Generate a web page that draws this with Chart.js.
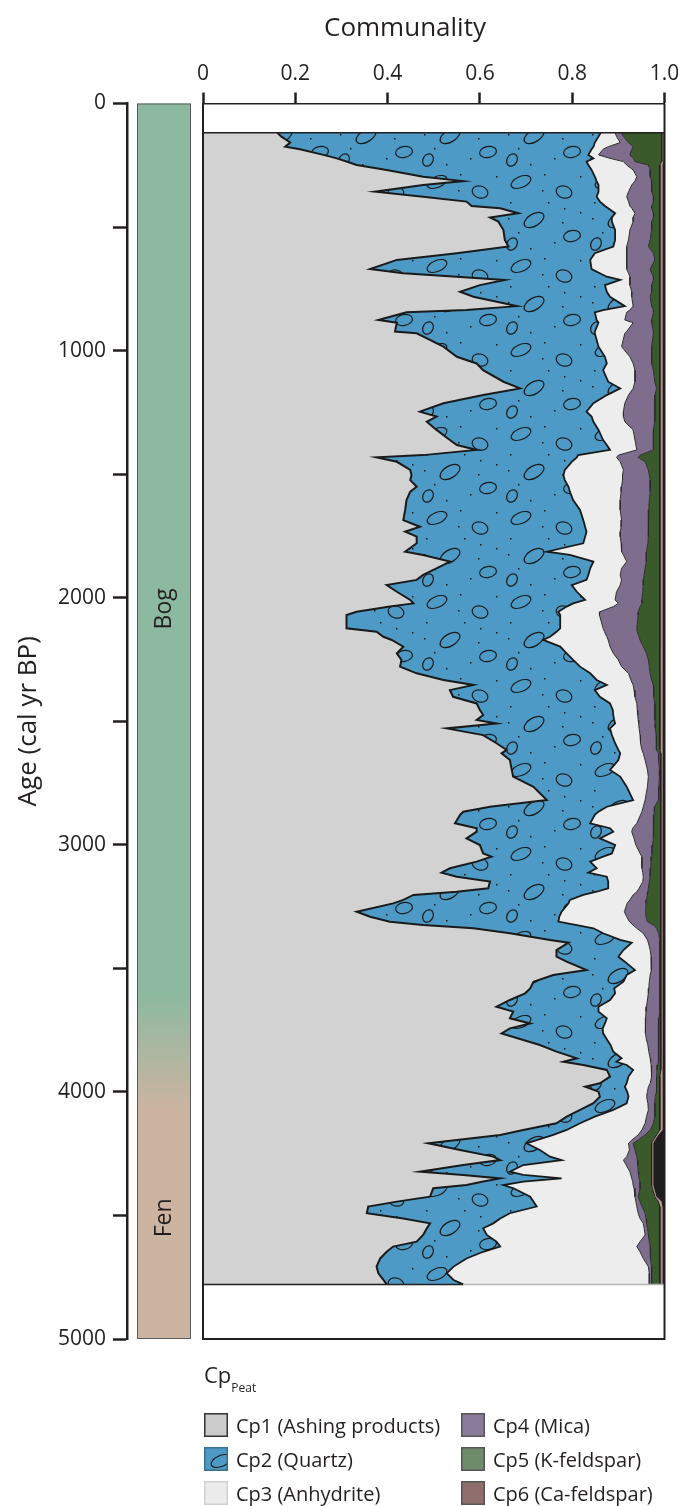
<!DOCTYPE html>
<html>
<head>
<meta charset="utf-8">
<title>Communality of peat components</title>
<script src="https://cdn.jsdelivr.net/npm/chart.js@4.4.1/dist/chart.umd.min.js"></script>
<style>
  body { margin: 0; background: #fff; }
  #wrap { position: relative; width: 678px; height: 1506px; font-family: 'Open Sans', sans-serif; color: #231f20; overflow: hidden; }
  #chart { position: absolute; left: 0; top: 0; }
  #xtitle { position: absolute; left: 305px; top: 13px; width: 200px; text-align: center; font-size: 26px; line-height: 26px; }
  #cpLabel { position: absolute; left: 204px; top: 1363px; font-size: 22px; line-height: 22px; }
  #cpLabel sub { font-size: 12px; vertical-align: -9px; }
  #legend { position: absolute; left: 204px; top: 1408px; display: grid; grid-template-columns: 257px auto; grid-template-rows: repeat(3, 34px); grid-auto-flow: column; font-size: 20px; }
  .item { display: flex; align-items: center; white-space: nowrap; }
  .item canvas { margin-right: 8px; }
</style>
</head>
<body>
<div id="wrap">
  <canvas id="chart" width="678" height="1506"></canvas>
  <div id="xtitle">Communality</div>
  <div id="cpLabel">Cp<sub>Peat</sub></div>
  <div id="legend"></div>
</div>
<script>
// Sample ages (cal yr BP), top of the core first
const ages = [
  118, 134, 158, 175, 185, 208, 222, 235, 249, 269,
  296, 314, 330, 357, 377, 397, 415, 424, 444, 461,
  478, 512, 552, 579, 606, 633, 670, 687, 701, 714,
  735, 762, 782, 820, 836, 845, 876, 887, 923, 930,
  984, 1025, 1052, 1079, 1126, 1153, 1180, 1213, 1247, 1267,
  1288,
  1321, 1362, 1382, 1402, 1423, 1432, 1450, 1483, 1504, 1524,
  1551, 1571, 1605, 1645, 1686, 1713, 1733, 1753, 1780, 1814,
  1827, 1854, 1881, 1908, 1928, 1949, 1976, 2009, 2023, 2036,
  2057, 2070, 2124, 2138, 2158, 2171, 2198, 2225, 2252, 2279,
  2306, 2333, 2353, 2374, 2401, 2428, 2455, 2475, 2495, 2509,
  2529, 2556, 2589, 2616,
  2630, 2657, 2697, 2724, 2765, 2819, 2846, 2866, 2879, 2913,
  2933, 2947, 2974, 3001, 3035, 3048, 3068, 3095, 3113, 3129,
  3149, 3176, 3190, 3203, 3223, 3237, 3271, 3291, 3311, 3325,
  3338, 3358, 3385, 3396, 3426, 3453, 3473, 3507, 3527, 3554,
  3581, 3601, 3628, 3655, 3675, 3702, 3723, 3743, 3763, 3790,
  3810, 3837, 3864, 3878, 3891, 3911,
  3938, 3965, 3979, 3999, 4019, 4046, 4073, 4100, 4127, 4154,
  4174, 4195, 4208, 4235, 4262, 4276, 4296, 4323, 4336, 4350,
  4363, 4377, 4390, 4424, 4444, 4464, 4491, 4512, 4532, 4552,
  4579, 4606, 4626, 4647, 4674, 4707, 4734, 4761, 4779
];

// Cumulative communality at the upper edge of each component
const cp1Top = [
  .161, .170, .189, .178, .210, .261, .290, .311, .333, .398,
  .477, .564, .477, .373, .477, .571, .582, .644, .683, .622,
  .640, .651, .654, .662, .550, .420, .362, .434, .550, .654,
  .600, .557, .586, .680, .571, .441, .380, .420, .416, .463,
  .521, .550, .593, .607, .651, .687, .607, .521, .470, .506,
  .485,
  .506, .535, .550, .593, .477, .376, .420, .449, .452, .449,
  .463, .449, .441, .438, .434, .470, .438, .463, .463, .438,
  .477, .535, .506, .477, .463, .398, .420, .449, .456, .405,
  .333, .311, .311, .376, .391, .409, .434, .420, .430, .427,
  .463, .521, .586, .535, .542, .593, .600, .607, .593, .636,
  .528, .607, .636, .658,
  .647, .665, .669, .672, .716, .745, .622, .564, .557, .546,
  .593, .593, .571, .600, .607, .625, .593, .535, .517, .550,
  .622, .618, .550, .456, .434, .412, .333, .362, .405, .477,
  .586, .665, .752, .792, .766, .766, .788, .831, .759, .716,
  .709, .698, .665, .636, .672, .665, .709, .665, .647, .694,
  .730, .766, .810, .781, .824, .875,
  .882, .860, .828, .857, .860, .846, .817, .788, .766, .694,
  .644, .550, .488, .557, .629, .644, .564, .470, .564, .644,
  .607, .571, .499, .492, .420, .358, .355, .434, .492, .485,
  .477, .463, .412, .398, .384, .376, .380, .391, .398
];

const cp2Top = [
  .862, .857, .849, .846, .842, .835, .846, .831, .835, .842,
  .849, .853, .857, .857, .853, .860, .871, .878, .893, .886,
  .886, .893, .893, .889, .849, .839, .842, .860, .875, .904,
  .871, .875, .882, .914, .867, .849, .853, .857, .849, .849,
  .857, .871, .875, .867, .878, .904, .875, .846, .831, .842,
  .846,
  .857, .867, .875, .882, .813, .810, .799, .784, .781, .784,
  .792, .795, .802, .817, .824, .828, .831, .828, .824, .745,
  .795, .846, .839, .835, .831, .799, .810, .828, .802, .788,
  .770, .774, .774, .766, .752, .737, .774, .788, .802, .817,
  .839, .853, .875, .849, .860, .882, .888, .889, .891, .893,
  .882, .886, .893, .900,
  .904, .900, .882, .904, .918, .932, .875, .857, .849, .839,
  .882, .889, .860, .893, .886, .867, .839, .853, .835, .875,
  .878, .878, .853, .824, .795, .792, .777, .772, .770, .810,
  .846, .867, .904, .929, .911, .900, .914, .936, .918, .911,
  .891, .893, .882, .857, .857, .875, .871, .866, .867, .876,
  .883, .889, .907, .896, .918, .932,
  .922, .918, .914, .919, .922, .918, .889, .849, .817, .788,
  .759, .723, .701, .730, .752, .777, .694, .665, .694, .777,
  .694, .651, .673, .709, .716, .723, .665, .644, .629, .607,
  .615, .636, .644, .607, .571, .543, .528, .543, .564
];

const cp3Top = [
  .893, .896, .904, .878, .867, .857, .882, .911, .918, .932,
  .940, .936, .929, .922, .918, .922, .925, .929, .936, .932,
  .932, .925, .922, .918, .918, .918, .918, .922, .925, .925,
  .925, .929, .929, .932, .925, .918, .914, .932, .918, .914,
  .907, .925, .932, .936, .936, .932, .922, .914, .911, .911,
  .914,
  .932, .936, .938, .940, .900, .896, .904, .911, .909, .909,
  .907, .906, .904, .904, .907, .906, .904, .904, .906, .907,
  .911, .918, .907, .904, .907, .904, .896, .893, .900, .889,
  .860, .859, .867, .870, .875, .878, .882, .889, .900, .907,
  .922, .927, .932, .934, .936, .940, .941, .942, .943, .944,
  .945, .947, .948, .951,
  .954, .958, .963, .965, .963, .958, .954, .951, .948, .940,
  .931, .929, .934, .938, .947, .951, .951, .951, .953, .954,
  .953, .945, .940, .932, .925, .919, .913, .918, .924, .932,
  .940, .954, .963, .965, .969, .971, .972, .971, .969, .967,
  .966, .965, .963, .961, .960, .959, .958, .959, .959, .961,
  .964, .966, .969, .970, .971, .972,
  .972, .969, .965, .963, .961, .964, .965, .961, .958, .951,
  .943, .929, .922, .924, .918, .911, .917, .925, .927, .929,
  .931, .932, .934, .936, .938, .940, .943, .947, .954, .956,
  .958, .947, .940, .947, .954, .965, .967, .967, .967
];

const cp4Top = [
  .907, .911, .922, .932, .929, .925, .932, .936, .965, .969,
  .969, .972, .972, .972, .976, .976, .972, .972, .976, .976,
  .972, .972, .969, .965, .976, .979, .969, .972, .976, .976,
  .972, .972, .969, .972, .976, .976, .972, .972, .976, .976,
  .972, .972, .972, .976, .979, .983, .979, .979, .979, .979,
  .979,
  .976, .976, .976, .976, .947, .943, .958, .965, .967, .969,
  .969, .969, .967, .966, .965, .965, .965, .965, .964, .961,
  .961, .960, .958, .956, .954, .954, .953, .951, .951, .947,
  .943, .943, .940, .941, .945, .947, .954, .961, .965, .967,
  .969, .972, .976, .976, .977, .979, .979, .979, .979, .980,
  .980, .982, .982, .983,
  .987, .987, .989, .989, .988, .987, .979, .978, .977, .976,
  .976, .976, .976, .974, .973, .972, .971, .970, .969, .969,
  .967, .965, .964, .963, .961, .960, .959, .960, .963, .976,
  .983, .987, .990, .990, .990, .990, .990, .990, .990, .990,
  .990, .990, .990, .989, .989, .988, .987, .987, .987, .987,
  .987, .987, .987, .986, .985, .984,
  .983, .983, .983, .982, .980, .979, .979, .979, .976, .969,
  .958, .943, .932, .936, .940, .941, .942, .943, .944, .945,
  .947, .947, .947, .943, .947, .951, .958, .960, .961, .963,
  .965, .967, .969, .969, .970, .972, .972, .972, .972
];

const cp5Top = [
  .994, .994, .994, .994, .994, .994, .994, .994, .990, .990,
  .990, .990, .990, .990, .990, .990, .990, .990, .990, .990,
  .990, .990, .990, .990, .990, .990, .990, .990, .990, .990,
  .990, .990, .990, .990, .990, .990, .990, .990, .990, .990,
  .990, .990, .990, .990, .990, .990, .990, .990, .990, .990,
  .990,
  .990, .990, .990, .990, .990, .990, .990, .990, .990, .990,
  .990, .990, .990, .990, .990, .990, .990, .990, .990, .990,
  .990, .990, .990, .990, .990, .990, .990, .990, .990, .990,
  .990, .990, .990, .990, .990, .990, .990, .990, .990, .990,
  .990, .990, .990, .990, .990, .990, .990, .990, .990, .990,
  .990, .990, .990, .990,
  .992, .992, .992, .992, .992, .992, .992, .992, .992, .992,
  .992, .992, .992, .992, .992, .992, .992, .992, .992, .992,
  .992, .992, .992, .992, .992, .992, .992, .992, .992, .992,
  .992, .992, .992, .992, .992, .992, .992, .992, .992, .992,
  .992, .992, .992, .992, .992, .992, .992, .992, .992, .992,
  .992, .992, .992, .992, .992, .992,
  .990, .990, .990, .990, .990, .990, .990, .990, .990, .989,
  .983, .976, .972, .972, .972, .972, .972, .972, .972, .972,
  .972, .972, .974, .979, .987, .990, .990, .990, .990, .990,
  .990, .990, .990, .990, .990, .990, .990, .990, .990
];

const cp6Top = [
  .997, .997, .997, .997, .997, .997, .997, .997, .995, .995,
  .995, .995, .995, .995, .995, .995, .995, .995, .995, .995,
  .995, .995, .995, .995, .995, .995, .995, .995, .995, .995,
  .995, .995, .995, .995, .995, .995, .995, .995, .995, .995,
  .995, .995, .995, .995, .995, .995, .995, .995, .995, .995,
  .995,
  .995, .995, .995, .995, .995, .995, .995, .995, .995, .995,
  .995, .995, .995, .995, .995, .995, .995, .995, .995, .995,
  .995, .995, .995, .995, .995, .995, .995, .995, .995, .995,
  .995, .995, .995, .995, .995, .995, .995, .995, .995, .995,
  .995, .995, .995, .995, .995, .995, .995, .995, .995, .995,
  .995, .995, .995, .995,
  .996, .996, .996, .996, .996, .996, .996, .996, .996, .996,
  .996, .996, .996, .996, .996, .996, .996, .996, .996, .996,
  .996, .996, .996, .996, .996, .996, .996, .996, .996, .996,
  .996, .996, .996, .996, .996, .996, .996, .996, .996, .996,
  .996, .996, .996, .996, .996, .996, .996, .996, .996, .996,
  .996, .996, .996, .996, .996, .996,
  .995, .995, .995, .995, .995, .995, .995, .995, .995, .995,
  .986, .979, .975, .975, .975, .975, .975, .975, .975, .975,
  .975, .975, .977, .982, .993, .995, .995, .995, .995, .995,
  .995, .995, .995, .995, .995, .995, .995, .995, .995
];

const seriesNames = ['Cp1 (Ashing products)', 'Cp2 (Quartz)', 'Cp3 (Anhydrite)', 'Cp4 (Mica)', 'Cp5 (K-feldspar)', 'Cp6 (Ca-feldspar)'];
const fillColors = ['#d2d2d2', null, '#ecedec', '#7e6d8d', '#3b5a2c', '#c29d9a'];
const legendColors = ['#cbcbcb', null, '#ececec', '#8b7b9b', '#6e8b6a', '#8f6e6d'];
const swatchBorders = ['#333333', '#3c6f8c', '#d0d0d0', '#555555', '#555555', '#555555'];
const lineColors = ['#1a1a1a', '#1a1a1a', '#2b2b2b', '#2b2b2b', '#1f1f1f', '#8a6a68'];
const lineWidths = [2, 1.8, 1, 1, 1, 0.5];

const xTicks = [0, 0.2, 0.4, 0.6, 0.8, 1];
const xTickLabels = ['0', '0.2', '0.4', '0.6', '0.8', '1.0'];
const ageTicks = [0, 500, 1000, 1500, 2000, 2500, 3000, 3500, 4000, 4500, 5000];
const ageTickLabels = ['0', '', '1000', '', '2000', '', '3000', '', '4000', '', '5000'];

const zoneNames = ['Bog', 'Fen'];
const zoneMid = [2045, 4510];
const zoneColors = ['#8cb9a0', '#cdb4a0'];
const zoneEdge = 3840;
const zoneBlend = 240;

Chart.defaults.font.family = "'Open Sans', sans-serif";
Chart.defaults.color = '#231f20';

// Tile with the quartz fill: blue ground, small dots and open ovals
function quartzTile() {
  const tile = document.createElement('canvas');
  tile.width = 84;
  tile.height = 84;
  const g = tile.getContext('2d');
  g.fillStyle = '#4c9ac5';
  g.fillRect(0, 0, 84, 84);
  g.strokeStyle = '#1b1b1b';
  g.lineWidth = 1.2;
  [[17, 14, 10.5, 5.5, -0.4], [60, 24, 8, 6, 0.3], [30, 52, 11, 6, -0.55], [68, 68, 8.5, 5.5, -0.2], [8, 76, 5, 6.5, 0.5]].forEach(([cx, cy, rx, ry, r]) => {
    g.beginPath();
    g.ellipse(cx, cy, rx, ry, r, 0, Math.PI * 2);
    g.stroke();
  });
  g.fillStyle = '#1b1b1b';
  [[40, 6], [76, 8], [6, 34], [44, 34], [76, 44], [14, 64], [50, 74], [38, 22], [58, 54], [4, 50], [26, 80], [60, 40]].forEach(([x, y]) => {
    g.fillRect(x, y, 1.5, 1.5);
  });
  return tile;
}

const tile = quartzTile();
const canvas = document.getElementById('chart');
const quartz = canvas.getContext('2d').createPattern(tile, 'repeat');

function asPoints(vals) {
  return vals.map((v, i) => ({ x: v, y: ages[i] }));
}

const tops = [cp1Top, cp2Top, cp3Top, cp4Top, cp5Top, cp6Top];
const datasets = tops.map((vals, i) => ({
  label: seriesNames[i],
  data: asPoints(vals),
  backgroundColor: i === 1 ? quartz : fillColors[i],
  borderColor: lineColors[i],
  borderWidth: lineWidths[i],
  fill: i === 0 ? { value: 0 } : '-1',
  pointRadius: 0,
  tension: 0
}));
// whatever is left up to 1.0
datasets.push({
  label: 'rest',
  data: asPoints(cp6Top),
  backgroundColor: '#1e1e1e',
  borderWidth: 0,
  fill: { value: 1 },
  pointRadius: 0
});

// Bog / Fen column between the age axis and the plot
const zoneBar = {
  id: 'zoneBar',
  afterDraw(chart) {
    const { ctx } = chart;
    const y = chart.scales.y;
    const s = chart.scales.zone;
    const left = s.left + 10;
    const right = s.right - 12;
    const top = y.top;
    const bottom = y.bottom;
    const grad = ctx.createLinearGradient(0, top, 0, bottom);
    const f0 = (y.getPixelForValue(zoneEdge - zoneBlend) - top) / (bottom - top);
    const f1 = (y.getPixelForValue(zoneEdge + zoneBlend) - top) / (bottom - top);
    grad.addColorStop(0, zoneColors[0]);
    grad.addColorStop(f0, zoneColors[0]);
    grad.addColorStop(f1, zoneColors[1]);
    grad.addColorStop(1, zoneColors[1]);
    ctx.save();
    ctx.fillStyle = grad;
    ctx.fillRect(left, top, right - left, bottom - top);
    ctx.strokeStyle = '#5a5a5a';
    ctx.lineWidth = 1;
    ctx.strokeRect(left + 0.5, top + 0.5, right - left - 1, bottom - top - 1);
    ctx.fillStyle = '#231f20';
    ctx.font = "23px 'Open Sans'";
    ctx.textAlign = 'center';
    ctx.textBaseline = 'middle';
    zoneNames.forEach((name, i) => {
      ctx.save();
      ctx.translate((left + right) / 2, y.getPixelForValue(zoneMid[i]));
      ctx.rotate(-Math.PI / 2);
      ctx.fillText(name, 0, 0);
      ctx.restore();
    });
    ctx.restore();
  }
};

// Plot frame plus the edges of the sampled interval
const frame = {
  id: 'frame',
  afterDatasetsDraw(chart) {
    const { ctx, chartArea: a } = chart;
    const x = chart.scales.x;
    const y = chart.scales.y;
    const last = ages.length - 1;
    const yTop = y.getPixelForValue(ages[0]);
    const yEnd = y.getPixelForValue(ages[last]);
    const xSplit = x.getPixelForValue(cp2Top[last]);
    ctx.save();
    ctx.lineWidth = 1.5;
    ctx.strokeStyle = '#231f20';
    ctx.beginPath();
    ctx.moveTo(a.left, yTop);
    ctx.lineTo(a.right, yTop);
    ctx.moveTo(a.left, yEnd);
    ctx.lineTo(xSplit, yEnd);
    ctx.stroke();
    ctx.strokeStyle = '#b5b5b5';
    ctx.beginPath();
    ctx.moveTo(xSplit, yEnd);
    ctx.lineTo(a.right, yEnd);
    ctx.stroke();
    ctx.strokeStyle = '#231f20';
    ctx.lineWidth = 2;
    ctx.beginPath();
    ctx.moveTo(a.left, a.top);
    ctx.lineTo(a.left, a.bottom);
    ctx.lineTo(a.right, a.bottom);
    ctx.lineTo(a.right, a.top);
    ctx.stroke();
    ctx.restore();
  }
};

new Chart(canvas, {
  type: 'line',
  data: { datasets },
  plugins: [zoneBar, frame],
  options: {
    indexAxis: 'y',
    responsive: false,
    animation: false,
    devicePixelRatio: 1,
    events: [],
    layout: { padding: { top: 0, left: 0, right: 13.5, bottom: 167 } },
    plugins: {
      legend: { display: false },
      tooltip: { enabled: false }
    },
    scales: {
      x: {
        type: 'linear',
        position: 'top',
        min: 0,
        max: 1,
        afterBuildTicks: s => { s.ticks = xTicks.map(v => ({ value: v })); },
        afterFit: s => { s.height = 103.5; s.paddingLeft = 0; s.paddingRight = 0; },
        ticks: {
          callback: (v, i) => xTickLabels[i],
          font: { size: 21 },
          color: '#231f20',
          padding: 6,
          maxRotation: 0,
          autoSkip: false
        },
        grid: { drawOnChartArea: false, tickLength: 11, tickWidth: 2.5, tickColor: '#231f20' },
        border: { color: '#231f20', width: 1.5 }
      },
      y: {
        type: 'linear',
        position: 'left',
        reverse: true,
        min: 0,
        max: 5000,
        weight: 2,
        afterBuildTicks: s => { s.ticks = ageTicks.map(v => ({ value: v })); },
        afterFit: s => { s.width = 127; },
        ticks: {
          callback: (v, i) => ageTickLabels[i],
          font: { size: 21 },
          color: '#231f20',
          padding: 7,
          autoSkip: false
        },
        grid: { drawOnChartArea: false, tickLength: 14, tickWidth: 2.5, tickColor: '#231f20' },
        border: { color: '#231f20', width: 2.5 },
        title: {
          display: true,
          text: 'Age (cal yr BP)',
          font: { size: 26 },
          color: '#231f20',
          padding: { top: 13, bottom: 0 }
        }
      },
      zone: {
        type: 'linear',
        axis: 'y',
        position: 'left',
        reverse: true,
        min: 0,
        max: 5000,
        weight: 1,
        afterFit: s => { s.width = 76; },
        ticks: { display: false },
        grid: { display: false },
        border: { display: false }
      }
    }
  }
});

// Legend below the plot, two columns
const legend = document.getElementById('legend');
seriesNames.forEach((name, i) => {
  const item = document.createElement('div');
  item.className = 'item';
  const sw = document.createElement('canvas');
  sw.width = 24;
  sw.height = 24;
  const g = sw.getContext('2d');
  g.fillStyle = i === 1 ? g.createPattern(tile, 'repeat') : legendColors[i];
  g.fillRect(0, 0, 24, 24);
  g.strokeStyle = swatchBorders[i];
  g.lineWidth = 1.5;
  g.strokeRect(0.75, 0.75, 22.5, 22.5);
  item.appendChild(sw);
  const label = document.createElement('span');
  label.textContent = name;
  item.appendChild(label);
  legend.appendChild(item);
});
</script>
</body>
</html>
